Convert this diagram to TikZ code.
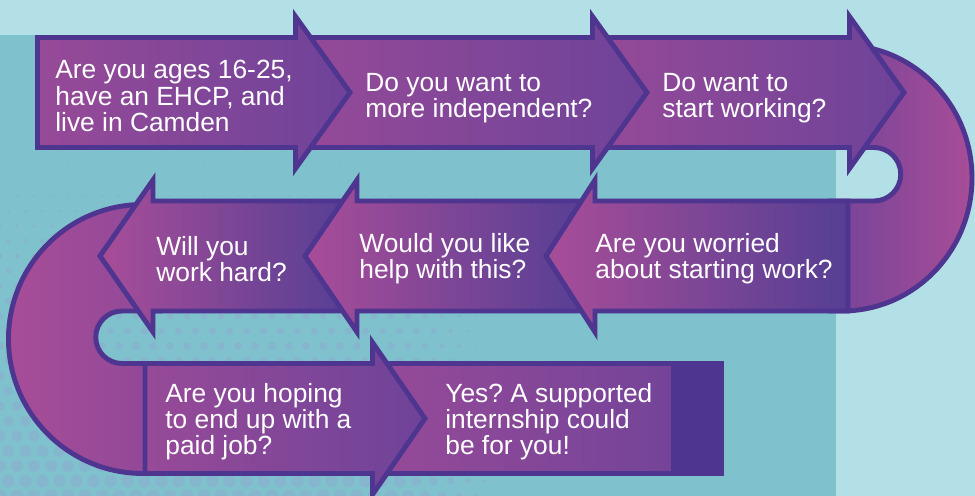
\documentclass[tikz,border=0pt]{standalone}
\usepackage{fontspec}
\setmainfont{Liberation Sans}
\frenchspacing

\definecolor{skylight}{HTML}{B3DFE6}
\definecolor{tealbg}{HTML}{7FC1CD}
\definecolor{dotblue}{HTML}{8AB2CF}
\definecolor{edge}{HTML}{4E3590}
\definecolor{plumpink}{HTML}{A84D98}
\definecolor{plummid}{HTML}{974A98}
\definecolor{plumdeep}{HTML}{6E4399}
\definecolor{plumblue}{HTML}{553F94}

% style, tail x, head x, tip x, centre y
\newcommand{\flowarrow}[5]{%
  \path[#1] (#2,{#5-55}) -- (#3,{#5-55}) -- (#3,{#5-76}) -- (#4,#5)
    -- (#3,{#5+76}) -- (#3,{#5+55}) -- (#2,{#5+55}) -- cycle;}

\begin{document}
\begin{tikzpicture}[x=0.02cm,y=-0.02cm,
  flow/.style={draw=edge,line width=2.8pt,miter limit=10},
  rowright/.style={flow,left color=plummid,right color=plumdeep},
  rowleft/.style={flow,left color=plumpink,right color=plumblue},
  question/.style={text=white,align=left,anchor=west,inner sep=0pt,
    font=\fontsize{15}{14.9}\selectfont}]
  \clip (0,0) rectangle (975,496);

  % background
  \fill[skylight] (0,0) rectangle (975,496);
  \fill[tealbg] (0,35) rectangle (836,496);
  \foreach \r in {0,...,26}{
    \foreach \c in {0,...,31}{
      \pgfmathsetmacro{\dx}{\c*17+mod(\r,2)*8.5}
      \pgfmathsetmacro{\dy}{106+\r*15}
      \pgfmathsetmacro{\dr}{6.5*max(0,(\dy-110)/386)*min(1,max(0,(520-\dx)/120))}
      \fill[dotblue,opacity=.7] (\dx,\dy) circle[radius=\dr];
    }
  }

  % u-turns
  \path[flow,left color=plumdeep!85!plummid,right color=plumpink]
    (830,45) -- (842,45) arc[start angle=-90,end angle=90,x radius=130,y radius=133]
    -- (830,311) -- (830,201) -- (874,201)
    arc[start angle=90,end angle=-90,radius=26.75] -- (830,147.5) -- cycle;
  \path[flow,left color=plumpink,right color=plummid!80!plumdeep]
    (160,204.5) -- (143,204.5) arc[start angle=-90,end angle=-270,radius=134.5]
    -- (160,473.5) -- (160,363.5) -- (122,363.5)
    arc[start angle=90,end angle=270,radius=26.25] -- (160,311) -- cycle;

  % third row
  \path[rowright] (370,363.5) rectangle (722,473.5);
  \path[flow,fill=edge] (673,363.5) rectangle (722,473.5);
  \flowarrow{rowright}{145}{372.5}{425}{418.5}

  % second row
  \flowarrow{rowleft}{350}{153}{100}{256}
  \flowarrow{rowleft}{590}{357}{305}{256}
  \flowarrow{rowleft}{848}{595}{546}{256}

  % first row
  \flowarrow{rowright}{585}{849.5}{904}{92.5}
  \flowarrow{rowright}{288}{592.5}{647}{92.5}
  \flowarrow{rowright}{37.5}{295.5}{350}{92.5}

  % questions
  \node[question] (ages) at (55,96) {Are you ages 16-25,\\have an EHCP, and\\live in Camden};
  \node[question] (indep) at (365,98) {Do you want to\\more independent?};
  \node[question] (working) at (662,98) {Do want to\\start working?};
  \node[question] (worried) at (595,259) {Are you worried\\about starting work?};
  \node[question] (helpq) at (359,259) {Would you like\\help with this?};
  \node[question] (hard) at (156,259) {Will you\\work hard?};
  \node[question] (paidjob) at (165,422) {Are you hoping\\to end up with a\\paid job?};
  \node[question] (intern) at (445,422) {Yes? A supported\\internship could\\be for you!};
\end{tikzpicture}
\end{document}
